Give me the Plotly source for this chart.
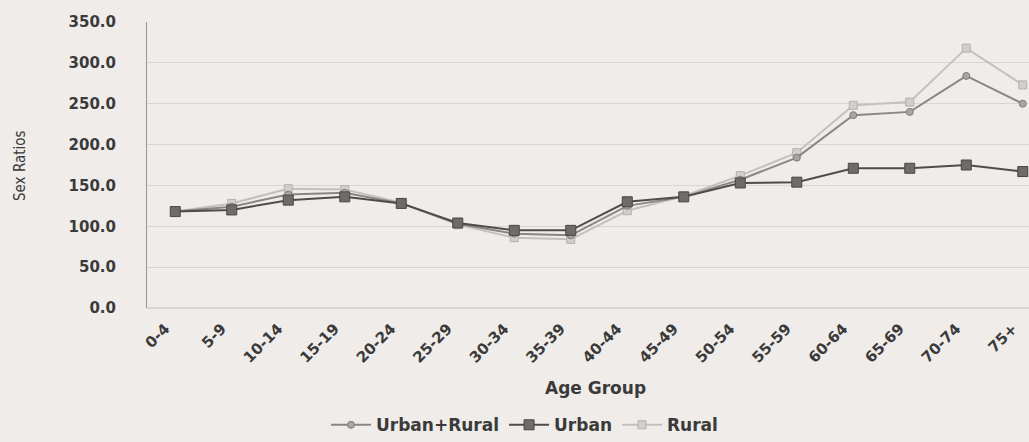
import plotly.graph_objects as go

age_groups = ["0-4", "5-9", "10-14", "15-19", "20-24", "25-29", "30-34", "35-39",
              "40-44", "45-49", "50-54", "55-59", "60-64", "65-69", "70-74", "75+"]
urban_rural = [118, 124, 139, 141, 128, 103, 91, 89, 125, 136, 157, 184, 236, 240, 284, 250]
urban = [118, 120, 132, 136, 128, 104, 95, 95, 130, 136, 153, 154, 171, 171, 175, 167]
rural = [118, 128, 146, 145, 129, 102, 86, 84, 119, 137, 162, 190, 248, 252, 318, 273]
y_ticks = [0, 50, 100, 150, 200, 250, 300, 350]

x_idx = list(range(len(age_groups)))
font_fam = "Verdana, DejaVu Sans, sans-serif"
txt = "#3a3a3a"
bg = "#f0ece9"

fig = go.Figure()
fig.add_trace(go.Scatter(
    x=x_idx, y=rural, name="Rural", mode="lines+markers",
    line=dict(color="#c4c0bd", width=2),
    marker=dict(symbol="square", size=8, color="#d2cecb", line=dict(color="#b5b1ae", width=1)),
    legendrank=3))
fig.add_trace(go.Scatter(
    x=x_idx, y=urban_rural, name="Urban+Rural", mode="lines+markers",
    line=dict(color="#8a8683", width=2),
    marker=dict(symbol="circle", size=7, color="#a9a5a2", line=dict(color="#7f7b78", width=1)),
    legendrank=1))
fig.add_trace(go.Scatter(
    x=x_idx, y=urban, name="Urban", mode="lines+markers",
    line=dict(color="#4f4b49", width=2),
    marker=dict(symbol="square", size=10, color="#6f6b68", line=dict(color="#4a4644", width=1)),
    legendrank=2))

fig.update_layout(
    width=1029, height=442,
    margin=dict(l=147, r=0, t=22, b=134, autoexpand=False),
    paper_bgcolor=bg, plot_bgcolor=bg,
    font=dict(family=font_fam, color=txt),
    showlegend=True,
    legend=dict(orientation="h", x=0.428, xanchor="center", y=-0.41, yanchor="middle",
                font=dict(size=17, weight="bold", color=txt),
                bgcolor="rgba(0,0,0,0)", traceorder="normal", itemwidth=40),
    annotations=[
        dict(text="Age Group", x=0.508, y=-0.281, xref="paper", yref="paper",
             xanchor="center", yanchor="middle",
             showarrow=False, font=dict(size=17, weight="bold", color=txt)),
        dict(text="Sex Ratios", x=-0.144, y=0.5, xref="paper", yref="paper",
             textangle=-90, showarrow=False, xanchor="center", yanchor="middle",
             font=dict(size=15, family="DejaVu Sans Condensed, Liberation Sans Narrow, sans-serif", color=txt)),
    ],
)
fig.update_xaxes(
    tickmode="array", tickvals=x_idx, ticktext=age_groups,
    range=[-0.5, 15.11], tickangle=-45, automargin=False,
    tickfont=dict(size=15, weight="bold", color=txt),
    showgrid=False, zeroline=False, showline=False,
    ticks="", ticklabelstandoff=8, ticklabelshift=-10, ticklabeloverflow="allow",
)
fig.update_yaxes(
    range=[0, 350], tickvals=y_ticks, tickformat=".1f", automargin=False,
    tickfont=dict(size=15, weight="bold", color=txt),
    showgrid=True, gridcolor="#d9d5d2", gridwidth=1,
    zeroline=True, zerolinecolor="#d9d5d2",
    showline=True, linecolor="#9a9693", linewidth=1,
    ticklabelstandoff=27,
)

fig.write_html(
    "out.html",
    config={"displayModeBar": False},
    post_script="document.body.style.margin='0';document.body.style.background='%s';" % bg,
)
